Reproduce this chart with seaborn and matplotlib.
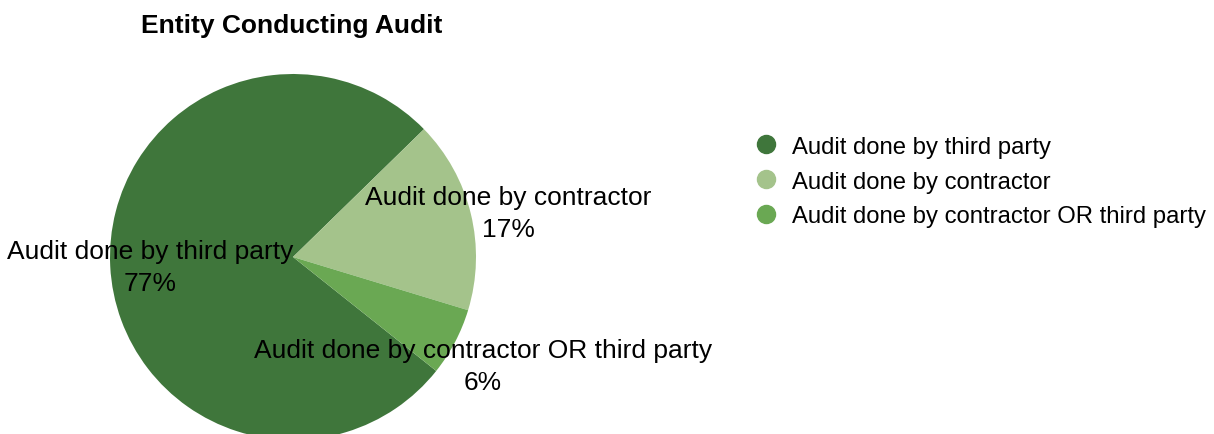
import matplotlib
matplotlib.use("Agg")
import matplotlib.pyplot as plt
from matplotlib.lines import Line2D
import numpy as np
import seaborn as sns

categories = ["Audit done by third party", "Audit done by contractor",
              "Audit done by contractor OR third party"]
shares = [77, 17, 6]
colors = ["#3f763b", "#a4c38b", "#6aa853"]

sns.set_theme(style="white")
plt.rcParams["font.family"] = ["Liberation Sans", "DejaVu Sans"]
plt.rcParams["text.color"] = "black"

W, H = 1214, 435
fig = plt.figure(figsize=(W / 100, H / 100), dpi=100)

# pie centred at (293, 258) px with a radius of 183 px
cx, cy, r = 293, 258, 183
half = 1.25 * r
ax = fig.add_axes([(cx - half) / W, (H - cy - half) / H, 2 * half / W, 2 * half / H])

wedges, _ = ax.pie(shares, colors=colors, startangle=-38.5, counterclock=False,
                   wedgeprops=dict(linewidth=0))
ax.set_xlim(-1.25, 1.25)
ax.set_ylim(-1.25, 1.25)
ax.set_aspect("equal")

# radial distance of each label and a small vertical nudge (data units)
label_dist = [0.78, 1.21, 1.17]
label_dy = [-0.015, -0.045, -0.05]
for w, name, val, d, dy in zip(wedges, categories, shares, label_dist, label_dy):
    mid = np.deg2rad((w.theta1 + w.theta2) / 2)
    ax.text(d * np.cos(mid), d * np.sin(mid) + dy, f"{name}\n{val}%",
            ha="center", va="center", fontsize=19, color="black",
            linespacing=1.42, clip_on=False)

fig.text(292 / W, 1 - 26 / H, "Entity Conducting Audit", ha="center", va="center",
         fontsize=19, fontweight="bold", color="black")

handles = [Line2D([], [], marker="o", linestyle="none", markersize=13,
                  markerfacecolor=c, markeredgecolor=c) for c in colors]
leg = fig.legend(handles, categories, loc="center left", bbox_to_anchor=(753 / W, 1 - 182.5 / H),
                 frameon=False, fontsize=17.2, handletextpad=0.55, labelspacing=0.53,
                 borderaxespad=0, borderpad=0, handlelength=1.1)
for t in leg.get_texts():
    t.set_color("black")

fig.savefig("out.png", dpi=100)
